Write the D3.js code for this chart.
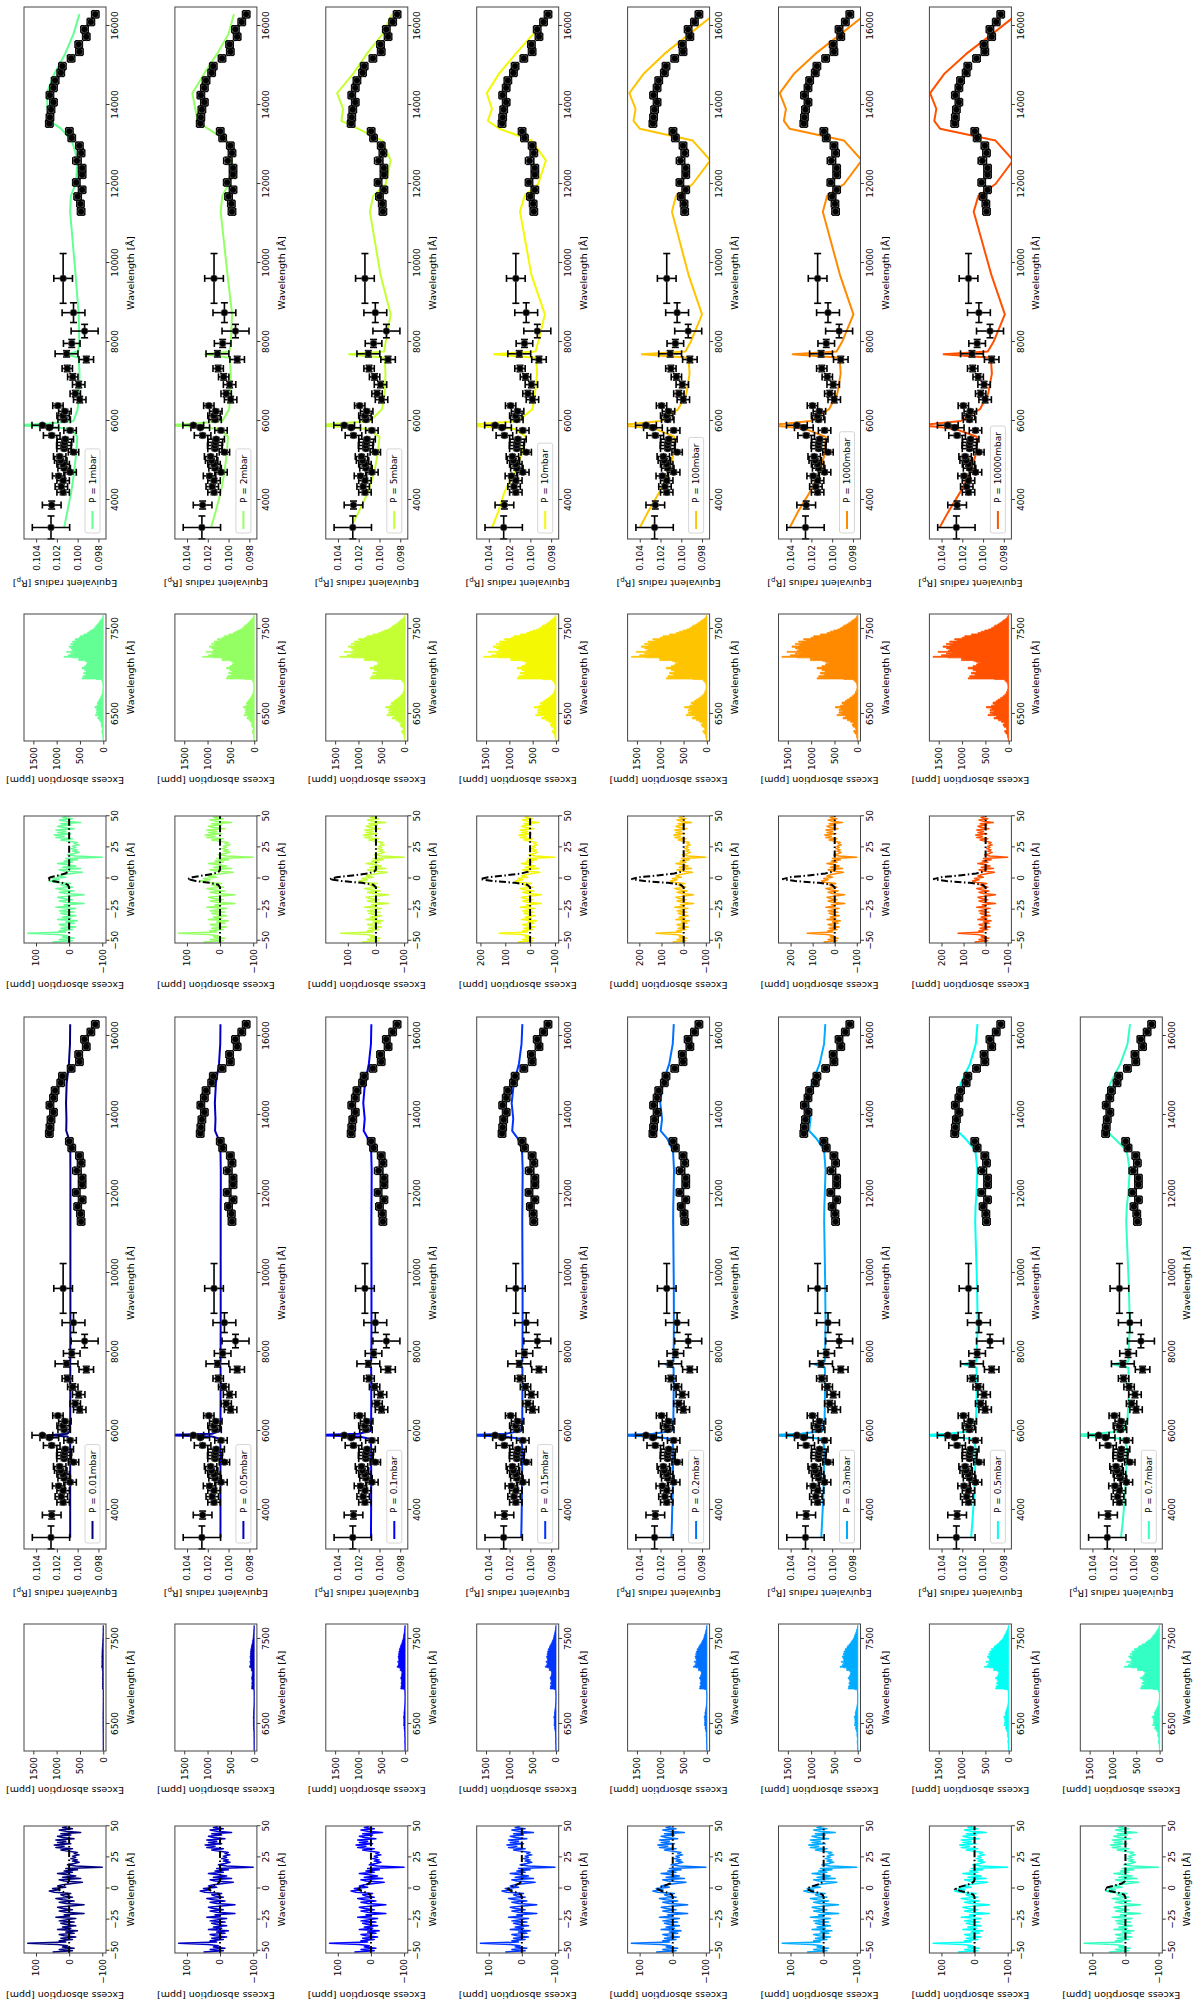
<!DOCTYPE html>
<html>
<head>
<meta charset="utf-8">
<script src="https://cdn.jsdelivr.net/npm/d3@7"></script>
<style>
  body { margin: 0; background: #fff; }
  svg { display: block; }
</style>
</head>
<body>
<script>
// ---- pressure levels and line colours (jet colormap samples) ----
var pressures = ["0.01", "0.05", "0.1", "0.15", "0.2", "0.3", "0.5", "0.7",
                 "1", "2", "5", "10", "100", "1000", "10000"];
var colors = ["#00007f", "#0000c4", "#0000ff", "#0034ff", "#0070ff", "#00acff", "#02fff4", "#33ffc4",
              "#63ff94", "#94ff63", "#c4ff33", "#f4f802", "#ffc400", "#ff8a00", "#ff5100"];

// ---- observed low-resolution transmission spectrum ----
var obsWl = [3306, 3873, 4195, 4339, 4491, 4610, 4703, 4805, 4906, 5000, 5101, 5211, 5300, 5380, 5460, 5540,
             5635, 5762, 5830, 5893, 6033, 6134, 6245, 6389, 6541, 6693, 6922, 7117, 7329, 7557, 7701, 7964,
             8277, 8743, 9610, 11302, 11497, 11684, 11853, 12039, 12234, 12403, 12589, 12784, 12970, 13165,
             13334, 13529, 13689, 13884, 14070, 14248, 14434, 14620, 14815, 14984, 15179, 15348, 15534,
             15729, 15915, 16102, 16296];
var obsWlErr = [290, 100, 60, 60, 60, 50, 50, 50, 50, 50, 50, 50, 45, 45, 45, 45,
                50, 50, 40, 30, 50, 50, 50, 50, 80, 80, 80, 80, 80, 80, 80, 100,
                170, 250, 630, 90, 90, 90, 90, 90, 90, 90, 90, 90, 90, 90,
                90, 90, 90, 90, 90, 90, 90, 90, 90, 90, 90, 90, 90,
                90, 90, 90, 90];
var obsR = [0.10257, 0.10250, 0.10140, 0.10157, 0.10140, 0.10183, 0.10073, 0.10130, 0.10140, 0.10163,
            0.10173, 0.10040, 0.10130, 0.10133, 0.10127, 0.10120, 0.10250, 0.10073, 0.10273, 0.10340,
            0.10130, 0.10140, 0.10123, 0.10190, 0.09980, 0.10023, 0.09990, 0.10047, 0.10100, 0.09917,
            0.10107, 0.10057, 0.09933, 0.10040, 0.10140, 0.09967, 0.09973, 0.10000, 0.09957, 0.10013,
            0.09957, 0.09957, 0.10007, 0.09967, 0.09983, 0.10057, 0.10080, 0.10273, 0.10267, 0.10257,
            0.10233, 0.10267, 0.10233, 0.10217, 0.10163, 0.10147, 0.10063, 0.09983, 0.09990, 0.09917,
            0.09934, 0.09873, 0.09830];
var obsRErr = [0.0018, 0.0009, 0.0006, 0.0006, 0.0006, 0.0006, 0.0006, 0.0006, 0.0006, 0.0006,
               0.0006, 0.0005, 0.0007, 0.0007, 0.0007, 0.0008, 0.0008, 0.0006, 0.0009, 0.0010,
               0.0006, 0.0006, 0.0006, 0.0005, 0.0006, 0.0005, 0.0006, 0.0005, 0.0005, 0.0007,
               0.0011, 0.0008, 0.0013, 0.0011, 0.0009, 0.00035, 0.00035, 0.00035, 0.00035, 0.00035,
               0.00035, 0.00035, 0.0004, 0.00035, 0.00035, 0.00035, 0.00035, 0.00035, 0.00035, 0.00035,
               0.00035, 0.00035, 0.00035, 0.00035, 0.00035, 0.00035, 0.00035, 0.00035, 0.00035, 0.00035,
               0.00035, 0.00035, 0.00035];

// ---- model spectra, equivalent radius in units of 1e-5 R_p ----
var modelWl = [3300, 3700, 4200, 4700, 5200, 5600, 5800, 5860, 5893, 5930, 6000, 6300, 6700, 7200, 7600,
               7690, 7760, 8000, 8700, 9700, 11300, 11700, 12000, 12600, 13100, 13400, 13600, 13900,
               14300, 14800, 15300, 15800, 16300];
var models = [
  [10072,10072,10072,10072,10072,10072,10074,10100,10280,10100,10074,10072,10071,10071,10071,10073,10071,10071,10070,10070,10070,10070,10070,10070,10071,10085,10110,10108,10112,10106,10084,10074,10072],
  [10078,10078,10078,10078,10078,10078,10082,10160,10650,10160,10082,10078,10077,10077,10077,10082,10077,10077,10076,10076,10076,10076,10075,10075,10078,10098,10130,10126,10132,10122,10092,10080,10078],
  [10082,10081,10080,10080,10080,10080,10086,10200,10650,10200,10086,10080,10079,10079,10080,10110,10080,10078,10077,10077,10078,10077,10076,10075,10080,10110,10152,10142,10156,10140,10102,10082,10078],
  [10088,10085,10082,10080,10079,10079,10090,10240,10650,10240,10088,10078,10077,10076,10077,10130,10077,10076,10075,10075,10078,10077,10076,10074,10080,10120,10175,10165,10180,10160,10110,10085,10077],
  [10095,10090,10085,10081,10079,10078,10094,10270,10650,10270,10092,10076,10074,10073,10074,10150,10075,10073,10071,10072,10078,10077,10074,10070,10079,10135,10198,10185,10202,10178,10115,10082,10072],
  [10105,10097,10088,10082,10078,10076,10096,10300,10650,10300,10094,10073,10070,10068,10070,10170,10071,10068,10064,10067,10077,10075,10071,10064,10077,10150,10222,10208,10226,10196,10120,10078,10066],
  [10115,10103,10090,10081,10075,10072,10098,10340,10650,10340,10096,10068,10063,10060,10063,10190,10064,10060,10052,10058,10076,10072,10064,10054,10074,10170,10248,10232,10252,10215,10125,10070,10054],
  [10125,10108,10092,10080,10072,10068,10100,10370,10650,10370,10098,10062,10055,10050,10054,10205,10055,10050,10040,10050,10075,10068,10056,10040,10070,10185,10265,10250,10272,10228,10130,10062,10038],
  [10130,10100,10062,10034,10014,10004,10060,10300,10650,10300,10040,10000,9985,9982,9990,10120,9995,9984,9990,10020,10073,10065,10020,10000,10056,10160,10273,10290,10297,10223,10120,10040,9983],
  [10170,10125,10075,10040,10016,10006,10080,10350,10650,10350,10060,9995,9982,9980,9988,10226,9992,9978,9966,10010,10076,10060,9999,9966,10016,10200,10299,10320,10349,10233,10110,10000,9949],
  [10280,10200,10110,10050,10015,10000,10110,10420,10650,10420,10090,9975,9950,9942,9950,10292,9955,9940,9892,9990,10092,10060,9940,9892,9975,10208,10367,10350,10408,10250,10120,9970,9880],
  [10370,10310,10250,10150,10080,10040,10150,10460,10650,10460,10120,9980,9955,9935,9945,10350,9950,9925,9860,9990,10100,10055,9925,9850,9990,10300,10410,10370,10420,10300,10140,9970,9820],
  [10400,10320,10210,10120,10070,10065,10250,10450,10650,10450,10200,10030,9950,9920,9930,10380,9960,9910,9800,9930,10090,10050,9890,9720,9890,10400,10460,10440,10500,10360,10160,9920,9680],
  [10410,10330,10215,10120,10068,10062,10260,10460,10650,10460,10210,10030,9950,9918,9928,10380,9958,9905,9795,9925,10090,10048,9885,9715,9885,10410,10465,10445,10505,10365,10160,9915,9675],
  [10420,10335,10220,10120,10065,10060,10270,10470,10650,10470,10215,10030,9950,9915,9925,10380,9955,9900,9790,9920,10090,10045,9880,9710,9880,10415,10470,10450,10510,10370,10160,9910,9670]
];

// ---- Na D line region: observed excess absorption (ppm) on a 1 A grid from -51 A ----
var naOffset = d3.range(-51, 51);
var naExcess = [50,-10,30,-15,20,5,35,125,10,30, -10,25,-20,15,30,-15,10,-25,35,-5,
                20,-20,10,25,-15,30,5,-20,40,0, 15,-45,10,30,-10,20,35,-5,-45,10,
                30,-15,20,40,-10,15,25,-5,45,60, 30,50,10,35,20,-10,-40,15,30,-35,
                20,-20,5,35,-10,15,-25,10,-100,-20, 5,-15,-30,-10,-25,-5,-20,-10,-30,-15,
                -25,0,25,-10,40,15,45,-5,35,10, 40,-15,20,35,-5,25,-35,10,30,-10,
                20,5];
// model line profile (relative) and its peak for each pressure (ppm)
var naModelX = [-51.8, -7, -5, -3.5, -2, -0.5, 1, 2.5, 4, 5.5, 7, 50.2];
var naModelShape = [0, 0, 0.06, 0.3, 0.75, 1, 0.85, 0.5, 0.18, 0.04, 0, 0];
var naModelPeak = [33, 35, 38, 42, 45, 50, 57, 63, 66, 98, 165, 200, 236, 238, 238];

// ---- 6200-7650 A band: excess absorption at 100 mbar (ppm), scaled per pressure ----
var bandWl = [6186,6220,6245,6265,6285,6305,6324,6345,6363,6383, 6402,6420,6442,6460,6480,6495,6508,6525,6540,6555,
              6571,6587,6603,6618,6640,6657,6675,6696,6715,6735, 6765,6794,6825,6853,6875,6892,6905,6912,6925,6932,
              6950,6971,6990,7010,7030,7049,7068,7088,7100,7108, 7120,7128,7140,7147,7160,7167,7178,7186,7196,7206,
              7216,7226,7236,7245,7265,7284,7300,7316,7330,7343, 7357,7371,7386,7402,7420,7441,7457,7473,7487,7500,
              7515,7527,7545,7559,7575,7590,7605,7618,7630,7645, 7660];
var bandBase = [10,25,30,60,85,40,50,100,120,90, 157,220,314,260,443,350,400,320,400,360,
                478,371,300,335,270,228,170,121,80,50, 25,15,18,30,60,85,300,870,760,835,
                720,800,700,764,870,764,690,657,600,693, 750,1014,950,1014,1300,1620,1380,1442,1250,1335,
                1200,1513,1300,1264,1330,1406,1250,1335,1200,1264, 1100,1157,1000,943,800,657,590,514,430,371,
                330,300,240,193,150,121,80,50,30,15, 5];
var bandMainPeak = [35, 100, 170, 230, 290, 380, 520, 760, 843, 1105, 1400, 1550, 1620, 1625, 1620];
var bandSidePeak = [7, 20, 34, 46, 58, 76, 104, 160, 180, 233, 420, 470, 478, 480, 478];

// ---- figure (drawn in landscape, then turned a quarter turn) ----
var FONT = "DejaVu Sans, sans-serif";
var FW = 2009, FH = 1200;
var svg = d3.select("body").append("svg")
    .attr("width", 1200).attr("height", 2009)
    .attr("font-family", FONT);
svg.append("rect").attr("width", 1200).attr("height", 2009).attr("fill", "#fff");
var fig = svg.append("g").attr("transform", "translate(0," + FW + ") rotate(-90)");

var rowH = 82;
function rowTop(r) { return 24 + r * 150.9; }
var setShift = 1010;
var narrowX = 56, narrowW = 127, bandX = 258, bandW = 127, specX = 460, specW = 532;

function makePanel(x, y, w, h, id) {
  var g = fig.append("g").attr("transform", "translate(" + x + "," + y + ")");
  g.append("clipPath").attr("id", id).append("rect").attr("width", w).attr("height", h);
  return g;
}

function axes(g, xs, ys, w, h, xt, yt, xf, yf) {
  var ax = g.append("g").attr("transform", "translate(0," + h + ")")
      .call(d3.axisBottom(xs).tickValues(xt).tickFormat(xf).tickSize(3.5).tickPadding(2.5));
  var ay = g.append("g")
      .call(d3.axisLeft(ys).tickValues(yt).tickFormat(yf).tickSize(3.5).tickPadding(2.5));
  [ax, ay].forEach(function (a) {
    a.attr("font-family", FONT).attr("font-size", 9);
    a.select(".domain").remove();
    a.selectAll(".tick line").attr("stroke", "#222").attr("stroke-width", 0.9);
    a.selectAll(".tick text").attr("fill", "#000");
  });
  g.append("rect").attr("width", w).attr("height", h)
    .attr("fill", "none").attr("stroke", "#444").attr("stroke-width", 1);
}

function labels(g, w, h, ylabOff, ylab) {
  g.append("text").attr("x", w / 2).attr("y", h + 28)
    .attr("text-anchor", "middle").attr("font-size", 9.5).text("Wavelength [\u00c5]");
  var t = g.append("text").attr("transform", "translate(" + (-ylabOff) + "," + (h / 2) + ") rotate(-90)")
    .attr("text-anchor", "middle").attr("font-size", 9.5);
  if (ylab === "radius") {
    t.append("tspan").text("Equivalent radius [R");
    t.append("tspan").attr("font-size", 7).attr("dy", 2).text("p");
    t.append("tspan").attr("dy", -2).text("]");
  } else {
    t.text(ylab);
  }
}

pressures.forEach(function (p, k) {
  var set = k < 8 ? 0 : 1, row = k < 8 ? k : k - 8;
  var top = rowTop(row), dx = set * setShift, col = colors[k];

  // -- Na line panel --
  var g1 = makePanel(narrowX + dx, top, narrowW, rowH, "clipA" + k);
  var naModel = naModelX.map(function (x, i) { return { x: x, y: naModelShape[i] * naModelPeak[k] }; });
  var lo = d3.min(naExcess), hi = Math.max(d3.max(naExcess), naModelPeak[k]);
  var pad = (hi - lo) * 0.05;
  var xs1 = d3.scaleLinear().domain([-51.8, 50.2]).range([0, narrowW]);
  var ys1 = d3.scaleLinear().domain([lo - pad, hi + pad]).range([rowH, 0]);
  var pl = g1.append("g").attr("clip-path", "url(#clipA" + k + ")");
  pl.append("path").datum(naOffset.map(function (x, i) { return { x: x, y: naExcess[i] }; }))
    .attr("fill", "none").attr("stroke", col).attr("stroke-width", 1.5).attr("stroke-linejoin", "round")
    .attr("d", d3.line().x(function (d) { return xs1(d.x); }).y(function (d) { return ys1(d.y); }));
  pl.append("path").datum(naModel)
    .attr("fill", "none").attr("stroke", "#000").attr("stroke-width", 2)
    .attr("stroke-dasharray", "7,2.5,1.5,2.5")
    .attr("d", d3.line().x(function (d) { return xs1(d.x); }).y(function (d) { return ys1(d.y); }));
  var yt1 = d3.range(-100, hi + pad, 100);
  axes(g1, xs1, ys1, narrowW, rowH, [-50, -25, 0, 25, 50], yt1, d3.format("d"), d3.format("d"));
  labels(g1, narrowW, rowH, 38.5, "Excess absorption [ppm]");

  // -- 6200-7650 band panel --
  var g2 = makePanel(bandX + dx, top, bandW, rowH, "clipB" + k);
  var xs2 = d3.scaleLinear().domain([6182, 7676]).range([0, bandW]);
  var ys2 = d3.scaleLinear().domain([-58, 1700]).range([rowH, 0]);
  var band = bandWl.map(function (w, i) {
    var s = w < 6900 ? bandSidePeak[k] / 478 : bandMainPeak[k] / 1620;
    return { x: w, y: bandBase[i] * s };
  });
  g2.append("g").attr("clip-path", "url(#clipB" + k + ")").append("path").datum(band)
    .attr("fill", col).attr("stroke", col).attr("stroke-width", 0.8)
    .attr("d", d3.area().curve(d3.curveStepAfter)
      .x(function (d) { return xs2(d.x); }).y0(ys2(0)).y1(function (d) { return ys2(d.y); }));
  axes(g2, xs2, ys2, bandW, rowH, [6500, 7500], [0, 500, 1000, 1500], d3.format("d"), d3.format("d"));
  labels(g2, bandW, rowH, 35.5, "Excess absorption [ppm]");

  // -- broadband spectrum panel --
  var g3 = makePanel(specX + dx, top, specW, rowH, "clipC" + k);
  var xs3 = d3.scaleLinear().domain([3013, 16481]).range([0, specW]);
  var ys3 = d3.scaleLinear().domain([0.09727, 0.10517]).range([rowH, 0]);
  var model = modelWl.map(function (w, i) { return { x: w, y: models[k][i] / 1e5 }; });
  g3.append("g").attr("clip-path", "url(#clipC" + k + ")").append("path").datum(model)
    .attr("fill", "none").attr("stroke", col).attr("stroke-width", 2).attr("stroke-linejoin", "round")
    .attr("d", d3.line().x(function (d) { return xs3(d.x); }).y(function (d) { return ys3(d.y); }));

  var pts = g3.append("g").selectAll("g").data(obsWl).join("g");
  var eb = pts.append("g").attr("stroke", "#000").attr("stroke-width", 1.6);
  eb.append("line")
    .attr("x1", function (w, i) { return xs3(w - obsWlErr[i]); })
    .attr("x2", function (w, i) { return xs3(w + obsWlErr[i]); })
    .attr("y1", function (w, i) { return ys3(obsR[i]); })
    .attr("y2", function (w, i) { return ys3(obsR[i]); });
  eb.append("line")
    .attr("x1", function (w) { return xs3(w); }).attr("x2", function (w) { return xs3(w); })
    .attr("y1", function (w, i) { return ys3(obsR[i] - obsRErr[i]); })
    .attr("y2", function (w, i) { return ys3(obsR[i] + obsRErr[i]); });
  [-1, 1].forEach(function (s) {
    eb.append("line")
      .attr("x1", function (w, i) { return xs3(w + s * obsWlErr[i]); })
      .attr("x2", function (w, i) { return xs3(w + s * obsWlErr[i]); })
      .attr("y1", function (w, i) { return ys3(obsR[i]) - 3.5; })
      .attr("y2", function (w, i) { return ys3(obsR[i]) + 3.5; });
    eb.append("line")
      .attr("x1", function (w) { return xs3(w) - 3.5; })
      .attr("x2", function (w) { return xs3(w) + 3.5; })
      .attr("y1", function (w, i) { return ys3(obsR[i] + s * obsRErr[i]); })
      .attr("y2", function (w, i) { return ys3(obsR[i] + s * obsRErr[i]); });
  });
  pts.append("circle")
    .attr("cx", function (w) { return xs3(w); })
    .attr("cy", function (w, i) { return ys3(obsR[i]); })
    .attr("r", 3.4).attr("fill", "#000").attr("stroke", "#666").attr("stroke-width", 0.5);

  axes(g3, xs3, ys3, specW, rowH, d3.range(4000, 16001, 2000), [0.098, 0.100, 0.102, 0.104],
       d3.format("d"), d3.format(".3f"));
  labels(g3, specW, rowH, 40.5, "radius");

  // legend
  var lg = g3.append("g").attr("transform", "translate(6," + (rowH - 21) + ")");
  var box = lg.append("rect").attr("height", 15).attr("rx", 2)
    .attr("fill", "#fff").attr("fill-opacity", 0.8).attr("stroke", "#ccc").attr("stroke-width", 0.8);
  lg.append("line").attr("x1", 4).attr("x2", 22).attr("y1", 7.5).attr("y2", 7.5)
    .attr("stroke", col).attr("stroke-width", 2);
  var lt = lg.append("text").attr("x", 30).attr("y", 7.5).attr("dy", "0.35em")
    .attr("font-size", 9).text("P = " + p + "mbar");
  box.attr("width", lt.node().getComputedTextLength() + 36);
});
</script>
</body>
</html>
